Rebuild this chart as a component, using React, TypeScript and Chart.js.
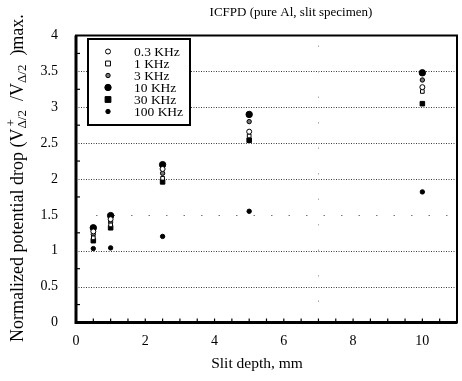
import React, { useEffect, useRef } from 'react';
import { Chart, registerables } from 'chart.js';

Chart.register(...registerables);

// ---- data ----
const depths = [0.5, 1, 2.5, 5, 10];
const seriesLabels = ['0.3 KHz', '1 KHz', '3 KHz', '10 KHz', '30 KHz', '100 KHz'];
const v03k = [1.27, 1.44, 2.14, 2.66, 3.28];
const v1k = [1.18, 1.36, 2.01, 2.6, 3.22];
const v3k = [1.23, 1.4, 2.08, 2.8, 3.38];
const v10k = [1.32, 1.49, 2.2, 2.9, 3.48];
const v30k = [1.14, 1.32, 1.96, 2.54, 3.05];
const v100k = [1.03, 1.04, 1.2, 1.55, 1.82];
const xTickValues = [0, 2, 4, 6, 8, 10];
const yTickValues = [0, 0.5, 1, 1.5, 2, 2.5, 3, 3.5, 4];
const yGridValues = [0.5, 1, 2, 2.5, 3, 3.5];
const ySparseGrid = [1.5];
const xSparseGrid = [7];
const titleText = 'ICFPD (pure Al, slit specimen)';
const xTitleText = 'Slit depth, mm';

const SERIF = '"Liberation Serif", "DejaVu Serif", serif';

type Style = { pointStyle: string; radius: number; fill: string };
const styles: Style[] = [
  { pointStyle: 'circle', radius: 2.5, fill: '#ffffff' },
  { pointStyle: 'rect', radius: 2.6, fill: '#ffffff' },
  { pointStyle: 'circle', radius: 2.2, fill: '#777777' },
  { pointStyle: 'circle', radius: 3.2, fill: '#000000' },
  { pointStyle: 'rect', radius: 3.2, fill: '#000000' },
  { pointStyle: 'circle', radius: 2.2, fill: '#000000' },
];
const seriesValues = [v03k, v1k, v3k, v10k, v30k, v100k];

function drawMarker(ctx: CanvasRenderingContext2D, st: Style, x: number, y: number) {
  ctx.save();
  ctx.fillStyle = st.fill;
  ctx.strokeStyle = '#000';
  ctx.lineWidth = 1;
  ctx.beginPath();
  if (st.pointStyle === 'rect') {
    const s = st.radius * 1.5;
    ctx.rect(x - s / 2 - 0.5, y - s / 2 - 0.5, s + 1, s + 1);
  } else {
    ctx.arc(x, y, st.radius, 0, Math.PI * 2);
  }
  ctx.fill();
  ctx.stroke();
  ctx.restore();
}

const paperPlugin = {
  id: 'paper',
  beforeDatasetsDraw(chart: any) {
    const { ctx, chartArea: a, scales } = chart;
    const ys = scales.y;
    const xs = scales.x;
    ctx.save();
    ctx.strokeStyle = '#3a3a3a';
    ctx.lineWidth = 1;
    ctx.setLineDash([1, 1.5]);
    yGridValues.forEach((v) => {
      const y = Math.round(ys.getPixelForValue(v)) + 0.5;
      ctx.beginPath();
      ctx.moveTo(a.left, y);
      ctx.lineTo(a.right, y);
      ctx.stroke();
    });
    ctx.strokeStyle = '#777';
    ctx.setLineDash([1.5, 16]);
    ySparseGrid.forEach((v) => {
      const y = Math.round(ys.getPixelForValue(v)) + 0.5;
      ctx.beginPath();
      ctx.moveTo(a.left + 20, y);
      ctx.lineTo(a.right, y);
      ctx.stroke();
    });
    ctx.strokeStyle = '#aaa';
    ctx.setLineDash([1.5, 24]);
    xSparseGrid.forEach((v) => {
      const x = Math.round(xs.getPixelForValue(v)) + 0.5;
      ctx.beginPath();
      ctx.moveTo(x, a.top + 10);
      ctx.lineTo(x, a.bottom);
      ctx.stroke();
    });
    ctx.restore();
  },
  afterDraw(chart: any) {
    const { ctx, chartArea: a, scales } = chart;
    const ys = scales.y;
    const xs = scales.x;
    ctx.save();
    ctx.setLineDash([]);
    ctx.strokeStyle = '#000';
    // inward ticks
    ctx.lineWidth = 1.2;
    for (let v = 0.5; v < 11; v += 0.5) {
      const x = xs.getPixelForValue(v);
      ctx.beginPath();
      ctx.moveTo(x, a.bottom);
      ctx.lineTo(x, a.bottom - 4);
      ctx.stroke();
    }
    for (let v = 0.25; v < 4; v += 0.5) {
      const y = ys.getPixelForValue(v);
      ctx.beginPath();
      ctx.moveTo(a.left, y);
      ctx.lineTo(a.left + 4, y);
      ctx.stroke();
    }
    // frame
    ctx.lineWidth = 2;
    ctx.strokeRect(a.left, a.top, a.right - a.left, a.bottom - a.top);
    ctx.lineWidth = 3;
    ctx.beginPath();
    ctx.moveTo(a.left, a.top);
    ctx.lineTo(a.left, a.bottom);
    ctx.lineTo(a.right, a.bottom);
    ctx.stroke();

    // legend
    const lx = 88, ly = 39, lw = 102, lh = 86;
    ctx.fillStyle = '#fff';
    ctx.fillRect(lx, ly, lw, lh);
    ctx.lineWidth = 2;
    ctx.strokeRect(lx, ly, lw, lh);
    ctx.font = '13.5px ' + SERIF;
    ctx.fillStyle = '#000';
    ctx.textBaseline = 'middle';
    ctx.textAlign = 'left';
    seriesLabels.forEach((lab, i) => {
      const y = 51.5 + i * 12;
      drawMarker(ctx, styles[i], 108, y);
      ctx.fillStyle = '#000';
      ctx.fillText(lab, 134, y + 0.5);
    });

    // chart title
    ctx.font = '13px ' + SERIF;
    ctx.textAlign = 'center';
    ctx.fillText(titleText, 291, 13);
    // x axis title
    ctx.font = '15.5px ' + SERIF;
    ctx.fillText(xTitleText, 257, 364);

    // y axis title with sub/superscripts, reading upward from bottom
    const main = '18px ' + SERIF;
    const small = '13px ' + SERIF;
    ctx.translate(17, 342);
    ctx.rotate(-Math.PI / 2);
    ctx.textAlign = 'left';
    ctx.textBaseline = 'alphabetic';
    const base = 6;
    const segs: { t: string; f: string; dy: number; stackWith?: string }[] = [
      { t: 'Normalized potential drop (V', f: main, dy: 0 },
      { t: '+', f: small, dy: -8, stackWith: 'Δ/2' },
      { t: '  /V', f: main, dy: 0 },
      { t: 'Δ/2', f: small, dy: 3 },
      { t: '  )max.', f: main, dy: 0 },
    ];
    let u = 0;
    segs.forEach((s) => {
      ctx.font = s.f;
      let w = ctx.measureText(s.t).width;
      if (s.stackWith) w = Math.max(w, ctx.measureText(s.stackWith).width);
      ctx.fillText(s.t, u + (s.stackWith ? 2 : 0), base + s.dy);
      if (s.stackWith) ctx.fillText(s.stackWith, u, base + 3);
      u += w;
    });
    ctx.restore();
  },
};

export default function App() {
  const ref = useRef<HTMLCanvasElement | null>(null);
  useEffect(() => {
    document.body.style.margin = '0';
    const canvas = ref.current;
    if (!canvas) return;
    const datasets = seriesLabels.map((label, i) => ({
      label,
      data: depths.map((x, j) => ({ x, y: seriesValues[i][j] })),
      pointStyle: styles[i].pointStyle,
      pointRadius: styles[i].radius,
      pointBackgroundColor: styles[i].fill,
      pointBorderColor: '#000',
      pointBorderWidth: 1,
      showLine: false,
    }));
    const chart = new Chart(canvas, {
      type: 'scatter',
      data: { datasets },
      options: {
        animation: false,
        responsive: false,
        devicePixelRatio: 1,
        layout: { padding: { left: 0, top: 35.5, right: 3, bottom: 0 } },
        plugins: { legend: { display: false }, title: { display: false }, tooltip: { enabled: false } },
        scales: {
          x: {
            type: 'linear',
            min: 0,
            max: 11,
            grid: { display: false, drawTicks: false },
            border: { display: false },
            afterBuildTicks: (s: any) => {
              s.ticks = xTickValues.map((value) => ({ value }));
            },
            afterFit: (s: any) => {
              s.height = 58.5;
            },
            ticks: {
              font: { family: SERIF, size: 14 },
              color: '#000',
              padding: 10,
              maxRotation: 0,
              autoSkip: false,
              callback: (v: any) => String(v),
            },
          },
          y: {
            type: 'linear',
            min: 0,
            max: 4,
            grid: { display: false, drawTicks: false },
            border: { display: false },
            afterBuildTicks: (s: any) => {
              s.ticks = yTickValues.map((value) => ({ value }));
            },
            afterFit: (s: any) => {
              s.width = 76;
            },
            ticks: {
              font: { family: SERIF, size: 14 },
              color: '#000',
              padding: 18,
              autoSkip: false,
              callback: (v: any) => String(v),
            },
          },
        },
      },
      plugins: [paperPlugin],
    } as any);
    return () => chart.destroy();
  }, []);
  return (
    <div style={{ width: 462, height: 381, background: '#fff' }}>
      <canvas ref={ref} width={462} height={381} style={{ display: 'block' }} />
    </div>
  );
}
